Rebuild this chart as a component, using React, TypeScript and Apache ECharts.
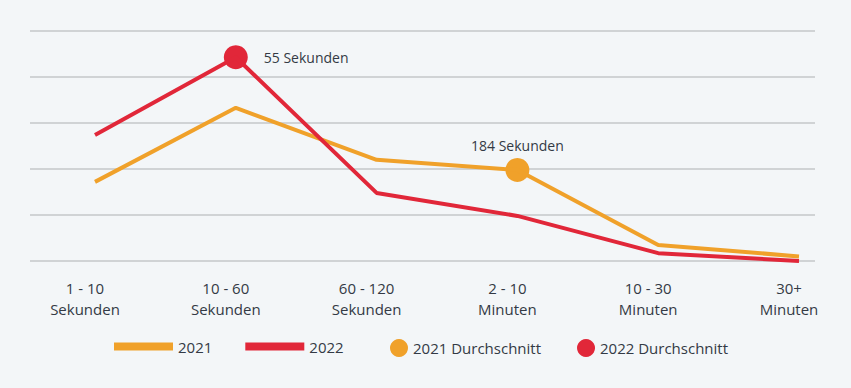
import React, { useEffect, useRef } from "react";
import * as echarts from "echarts";

const categories = ["1 - 10\nSekunden", "10 - 60\nSekunden", "60 - 120\nSekunden", "2 - 10\nMinuten", "10 - 30\nMinuten", "30+\nMinuten"];
const values2021 = [17.2, 33.3, 22.0, 19.8, 3.5, 1.0];
const values2022 = [27.4, 44.3, 14.8, 9.8, 1.7, 0.0];
const avg2021Index = 3;
const avg2021Label = "184 Sekunden";
const avg2022Index = 1;
const avg2022Label = "55 Sekunden";

const ORANGE = "#f0a12a";
const RED = "#e12739";
const TEXT = "#333a45";
const FONT = "Open Sans";

export default function App() {
  const ref = useRef<HTMLDivElement>(null);
  useEffect(() => {
    if (!ref.current) return;
    const chart = echarts.init(ref.current, null, { renderer: "svg" });
    const yCommon = { type: "value", min: 0, max: 50, interval: 10 };
    chart.setOption({
      animation: false,
      backgroundColor: "#f3f6f8",
      textStyle: { fontFamily: FONT, color: TEXT },
      grid: [
        { left: 30, right: 36, top: 31, bottom: 127 },
        { left: 95, right: 52, top: 31, bottom: 127 },
      ],
      xAxis: [
        { type: "category", gridIndex: 0, data: categories, show: false },
        {
          type: "category",
          gridIndex: 1,
          data: categories,
          boundaryGap: false,
          axisLine: { show: false },
          axisTick: { show: false },
          splitLine: { show: false },
          axisLabel: {
            interval: 0,
            margin: 16,
            fontSize: 15,
            lineHeight: 21,
            color: TEXT,
            fontFamily: FONT,
            padding: [0, 20, 0, 0],
          },
        },
      ],
      yAxis: [
        {
          ...yCommon,
          gridIndex: 0,
          axisLabel: { show: false },
          axisLine: { show: false },
          axisTick: { show: false },
          splitLine: { show: true, lineStyle: { color: "#d0d3d5", width: 2 } },
        },
        {
          ...yCommon,
          gridIndex: 1,
          show: false,
          splitLine: { show: false },
        },
      ],
      legend: [
        {
          left: 109,
          top: 334,
          itemWidth: 59,
          itemHeight: 8,
          itemGap: 33,
          textStyle: { fontSize: 15, color: TEXT, fontFamily: FONT },
          data: [
            { name: "2021", icon: "rect" },
            { name: "2022", icon: "rect" },
          ],
        },
        {
          left: 385,
          top: 334,
          itemWidth: 18,
          itemHeight: 18,
          itemGap: 36,
          textStyle: { fontSize: 15, color: TEXT, fontFamily: FONT },
          data: [
            { name: "2021 Durchschnitt", icon: "circle" },
            { name: "2022 Durchschnitt", icon: "circle" },
          ],
        },
      ],
      series: [
        {
          name: "2021",
          type: "line",
          xAxisIndex: 1,
          yAxisIndex: 1,
          data: values2021,
          color: ORANGE,
          lineStyle: { width: 4, color: ORANGE },
          showSymbol: false,
          symbol: "none",
        },
        {
          name: "2022",
          type: "line",
          xAxisIndex: 1,
          yAxisIndex: 1,
          data: values2022,
          color: RED,
          lineStyle: { width: 4, color: RED },
          showSymbol: false,
          symbol: "none",
        },
        {
          name: "2021 Durchschnitt",
          type: "scatter",
          xAxisIndex: 1,
          yAxisIndex: 1,
          symbolSize: 24,
          color: ORANGE,
          itemStyle: { color: ORANGE, opacity: 1 },
          data: [[avg2021Index, values2021[avg2021Index]]],
          label: {
            show: true,
            position: "top",
            distance: 5,
            formatter: avg2021Label,
            fontSize: 14,
            color: TEXT,
            fontFamily: FONT,
          },
        },
        {
          name: "2022 Durchschnitt",
          type: "scatter",
          xAxisIndex: 1,
          yAxisIndex: 1,
          symbolSize: 24,
          color: RED,
          itemStyle: { color: RED, opacity: 1 },
          data: [[avg2022Index, values2022[avg2022Index]]],
          label: {
            show: true,
            position: "right",
            distance: 16,
            formatter: avg2022Label,
            fontSize: 14,
            color: TEXT,
            fontFamily: FONT,
          },
        },
      ],
    });
    return () => chart.dispose();
  }, []);
  return <div ref={ref} style={{ position: "fixed", left: 0, top: 0, width: 851, height: 388 }} />;
}
